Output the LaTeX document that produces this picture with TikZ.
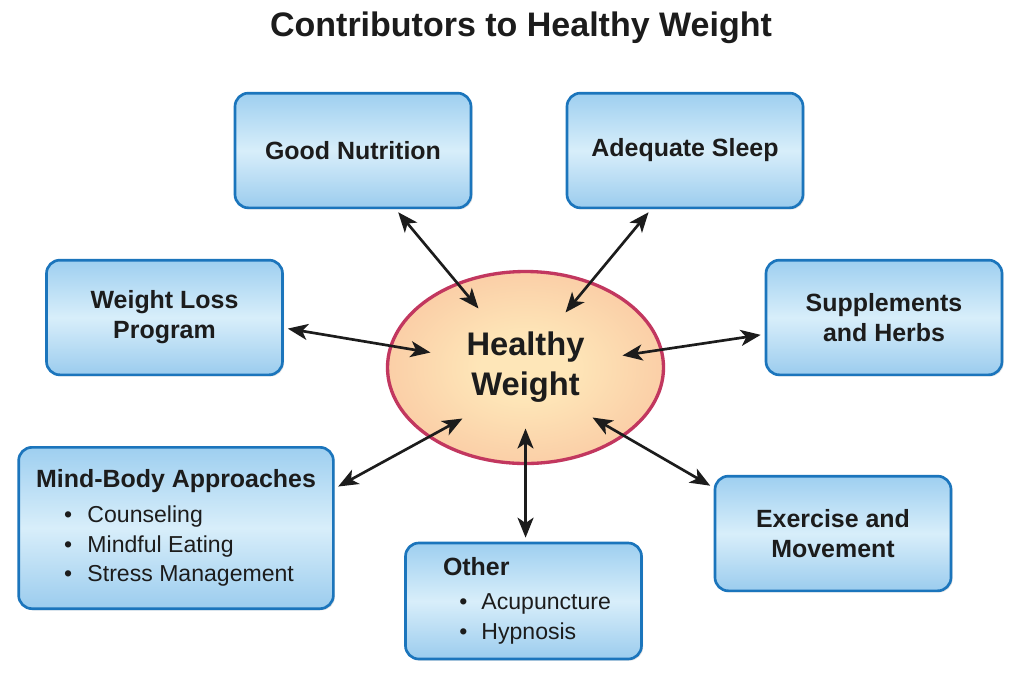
\documentclass[tikz,border=0pt]{standalone}
\usepackage{fontspec}
\setmainfont{Liberation Sans}
\usetikzlibrary{arrows.meta,shapes.geometric,shadows}
\definecolor{boxline}{HTML}{1B75BC}
\definecolor{boxtop}{HTML}{9ECFF0}
\definecolor{boxmid}{HTML}{D8EEFA}
\definecolor{boxbot}{HTML}{9BCCEE}
\definecolor{ellline}{HTML}{C2375F}
\definecolor{ellin}{HTML}{FEE6B8}
\definecolor{ellmid}{HTML}{F9C5A0}
\definecolor{ellout}{HTML}{F29E8A}
\definecolor{txt}{HTML}{1C1C1C}
\pgfdeclareradialshading{hwshade}{\pgfpoint{0bp}{0bp}}{%
  color(0bp)=(ellin); color(8bp)=(ellin); color(32bp)=(ellmid);
  color(50bp)=(ellout); color(100bp)=(ellout)}
\begin{document}
\begin{tikzpicture}[x=0.75pt,y=-0.75pt,
  box/.style={draw=boxline, line width=2pt, rounded corners=10pt,
    top color=boxtop, bottom color=boxbot, middle color=boxmid,
    minimum width=177pt, minimum height=86pt, inner sep=0pt,
    align=center, text=txt,
    font=\bfseries\fontsize{18.7}{22.5}\selectfont,
    drop shadow={opacity=0.22,shadow xshift=1.2pt,shadow yshift=-1.2pt}},
  listbox/.style={box, align=left, font=\fontsize{17.3}{22.3}\selectfont},
  hwnode/.style={ellipse, draw=ellline, line width=2.5pt,
    shading=hwshade,
    minimum width=207pt, minimum height=144pt, inner sep=0pt,
    align=center, text=txt,
    font=\bfseries\fontsize{24.5}{30}\selectfont},
  biarrow/.style={line width=2pt, draw=txt,
    {Stealth[length=15pt,width=12pt,inset=4pt]}-{Stealth[length=15pt,width=12pt,inset=4pt]},
    shorten <=3pt},
  titlestyle/.style={text=txt, font=\bfseries\fontsize{25.5}{30}\selectfont}
]
\useasboundingbox (0,0) rectangle (1024,683);
\fill[white] (0,0) rectangle (1024,683);

\node[titlestyle, anchor=base] (title) at (521,36) {Contributors to Healthy Weight};

\node[hwnode] (hw) at (525.5,367.5) {Healthy\\Weight};

\node[box] (gn) at (353,150.5) {Good Nutrition};
\node[box] (as) at (685,150.5) {Adequate Sleep};
\node[box] (wl) at (164.5,317.5) {Weight Loss\\Program};
\node[box] (sh) at (884,317.5) {Supplements\\and Herbs};
\node[box] (ex) at (833,533.5) {Exercise and\\Movement};
\node[listbox, minimum width=236pt, minimum height=121pt] (mb) at (176,528)
  {{\bfseries\fontsize{18.7}{22.5}\selectfont Mind-Body Approaches}\\[4pt]
   \hspace*{21pt}•\hspace{11.5pt}Counseling\\
   \hspace*{21pt}•\hspace{11.5pt}Mindful Eating\\
   \hspace*{21pt}•\hspace{11.5pt}Stress Management};
\node[listbox, minimum width=177pt, minimum height=87pt] (ot) at (523.5,601)
  {\hspace*{5.25pt}{\bfseries\fontsize{18.7}{22.5}\selectfont Other}\\[3pt]
   \hspace*{5.25pt}\hspace*{12.25pt}•\hspace{10.5pt}Acupuncture\\
   \hspace*{5.25pt}\hspace*{12.25pt}•\hspace{10.5pt}Hypnosis};

\draw[biarrow] (gn.-54)  -- ([shift={(-47,-59)}]hw.center);
\draw[biarrow] (as.-120) -- ([shift={(40,-55)}]hw.center);
\draw[biarrow] (wl.-5)   -- ([shift={(-95,-15)}]hw.center);
\draw[biarrow] (sh.-172) -- ([shift={(97,-12)}]hw.center);
\draw[biarrow] (mb.14)   -- ([shift={(-63,51)}]hw.center);
\draw[biarrow] (ot.88)   -- ([shift={(0,61)}]hw.center);
\draw[biarrow] (ex.159)  -- ([shift={(67,50)}]hw.center);
\end{tikzpicture}
\end{document}
